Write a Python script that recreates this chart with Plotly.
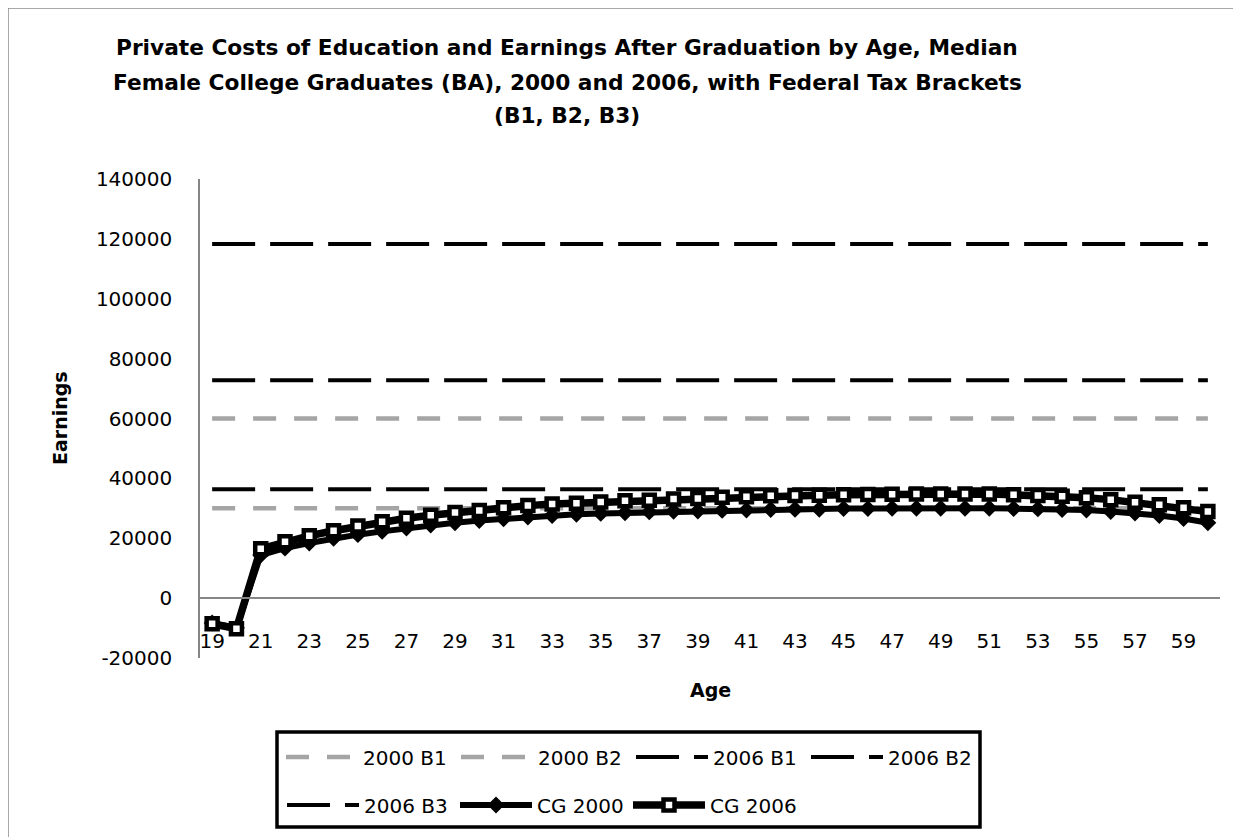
import plotly.graph_objects as go

# ---------------- data ----------------
ages = list(range(19, 61))
age_ticks = list(range(19, 61, 2))
y_ticks = list(range(-20000, 140001, 20000))
y_tick_labels = [str(v) for v in y_ticks]

cg_2000 = [-8300, -9900, 14400, 16700, 18400, 20000, 21200, 22300, 23400, 24400,
           25200, 25900, 26500, 27100, 27600, 28000, 28300, 28500, 28800, 29000,
           29100, 29300, 29400, 29600, 29700, 29700, 29900, 29900, 30000, 30000,
           30000, 30000, 30000, 29900, 29800, 29600, 29400, 28900, 28400, 27600,
           26600, 25200]

cg_2006 = [-8600, -10200, 16500, 18800, 20800, 22500, 24100, 25500, 26700, 27700,
           28600, 29300, 30200, 30900, 31400, 31700, 32100, 32500, 32700, 33100,
           33300, 33700, 33900, 34200, 34300, 34400, 34500, 34600, 34700, 34800,
           34800, 34800, 34800, 34500, 34300, 34000, 33500, 32900, 32000, 31200,
           30200, 28900]

bracket_2000_b1 = 30000
bracket_2000_b2 = 60000
bracket_2006_b1 = 36400
bracket_2006_b2 = 72800
bracket_2006_b3 = 118300

# ---------------- layout geometry ----------------
# the page adds an 8px body margin, so the figure is drawn 8px smaller
OFF = 8
W, H = 1241 - OFF, 837 - OFF
ML, MR, MT, MB = 200 - OFF, 21, 179 - OFF, 179
PW = W - ML - MR
PH = H - MT - MB


def px(xs):
    """screen x (reference pixels) -> paper x"""
    return (xs - OFF - ML) / PW


def py(ys):
    """screen y (reference pixels) -> paper y"""
    return (H - MB - (ys - OFF)) / PH


FONT = "DejaVu Sans"
GRAY = "#A5A5A5"
AXIS = "#868686"

fig = go.Figure()

n = len(ages)
brackets = [
    ("2000 B1", bracket_2000_b1, GRAY, 4.5, "23px,18px", "legend"),
    ("2000 B2", bracket_2000_b2, GRAY, 4.5, "23px,18px", "legend"),
    ("2006 B1", bracket_2006_b1, "black", 4, "43px,15px", "legend"),
    ("2006 B2", bracket_2006_b2, "black", 4, "43px,15px", "legend"),
    ("2006 B3", bracket_2006_b3, "black", 4, "43px,15px", "legend2"),
]
for name, val, col, w, dash, lg in brackets:
    fig.add_trace(go.Scatter(
        x=ages, y=[val] * n, mode="lines", name=name, legend=lg,
        line=dict(color=col, width=w, dash=dash),
    ))

fig.add_trace(go.Scatter(
    x=ages, y=cg_2000, mode="lines+markers", name="CG 2000", legend="legend2",
    line=dict(color="black", width=6),
    marker=dict(symbol="diamond", size=13, color="black"),
))
fig.add_trace(go.Scatter(
    x=ages, y=cg_2006, mode="lines+markers", name="CG 2006", legend="legend2",
    line=dict(color="black", width=7.5),
    marker=dict(symbol="square", size=11, color="white",
                line=dict(color="black", width=4.5)),
))

tickfont = dict(family=FONT, size=20, color="black")
legfont = dict(family=FONT, size=20, color="black")

fig.update_layout(
    width=W, height=H,
    margin=dict(l=ML, r=MR, t=MT, b=MB),
    paper_bgcolor="white", plot_bgcolor="white",
    font=dict(family=FONT, color="black"),
    xaxis=dict(
        range=[18.5, 60.5], tickmode="array", tickvals=age_ticks,
        showgrid=False, zeroline=False,
        showline=True, linecolor=AXIS, linewidth=1.5,
        anchor="free", position=0.125,
        ticks="outside", ticklen=25, tickcolor="rgba(0,0,0,0)",
        tickfont=tickfont,
    ),
    yaxis=dict(
        range=[-20000, 140000], tickmode="array", tickvals=y_ticks,
        ticktext=y_tick_labels,
        showgrid=False, zeroline=False,
        showline=True, linecolor=AXIS, linewidth=1.5,
        ticks="outside", ticklen=22, tickcolor="rgba(0,0,0,0)",
        tickfont=tickfont,
    ),
    legend=dict(
        orientation="h", x=px(281), xanchor="left", y=py(757), yanchor="middle",
        font=legfont, itemwidth=72, entrywidth=88, entrywidthmode="pixels",
        bgcolor="rgba(0,0,0,0)", borderwidth=0,
    ),
    legend2=dict(
        orientation="h", x=px(282), xanchor="left", y=py(805), yanchor="middle",
        font=legfont, itemwidth=72, entrywidth=86, entrywidthmode="pixels",
        bgcolor="rgba(0,0,0,0)", borderwidth=0,
    ),
    showlegend=True,
)

title_lines = [
    "Private Costs of Education and Earnings After Graduation by Age, Median",
    "Female College Graduates (BA), 2000 and 2006, with Federal Tax Brackets",
    "(B1, B2, B3)",
]
for i, t in enumerate(title_lines):
    fig.add_annotation(
        text="<b>" + t + "</b>", xref="paper", yref="paper",
        x=px(567), y=py(48 + 34 * i), xanchor="center", yanchor="middle",
        showarrow=False, font=dict(family=FONT, size=21.7, color="black"),
    )

fig.add_annotation(
    text="<b>Earnings</b>", xref="paper", yref="paper", x=px(60), y=py(418),
    xanchor="center", yanchor="middle", textangle=-90, showarrow=False,
    font=dict(family=FONT, size=19, color="black"),
)
fig.add_annotation(
    text="<b>Age</b>", xref="paper", yref="paper", x=px(710), y=py(690),
    xanchor="center", yanchor="middle", showarrow=False,
    font=dict(family=FONT, size=19, color="black"),
)

# legend frame
fig.add_shape(type="rect", xref="paper", yref="paper",
              x0=px(277), x1=px(980), y0=py(827), y1=py(732),
              line=dict(color="black", width=3.5), fillcolor="rgba(0,0,0,0)")
# chart outer border
fig.add_shape(type="rect", xref="paper", yref="paper",
              x0=px(8), x1=px(1236), y0=py(850), y1=py(8),
              line=dict(color="#8C8C8C", width=1.5), fillcolor="rgba(0,0,0,0)")

fig.write_html("out.html")
